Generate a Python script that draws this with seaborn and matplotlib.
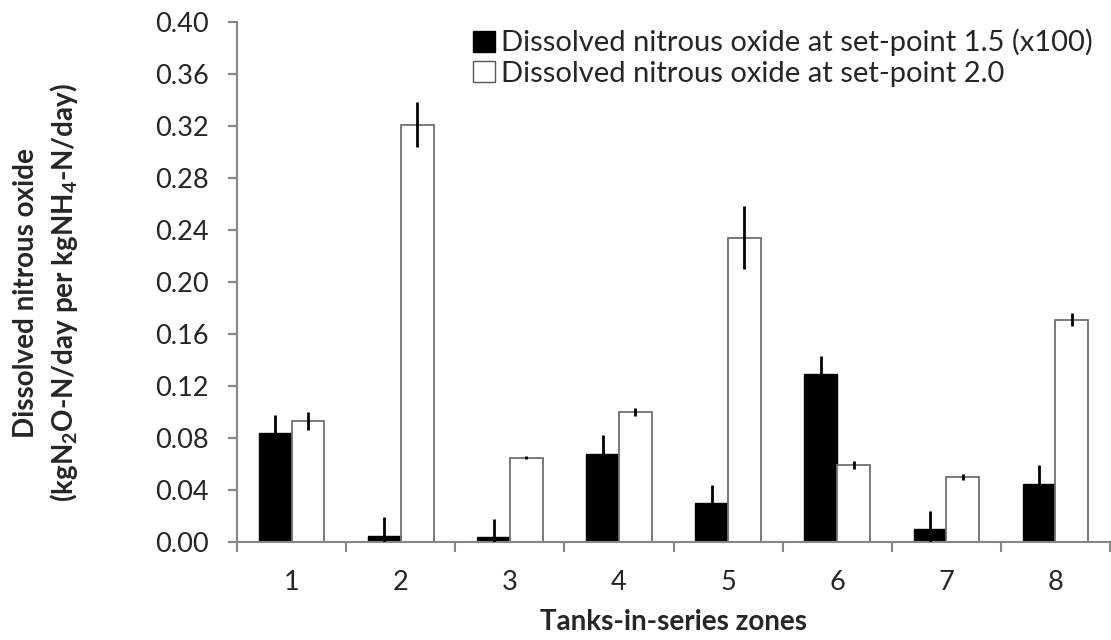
import matplotlib
matplotlib.use("Agg")
import matplotlib.pyplot as plt
import seaborn as sns
import pandas as pd
import numpy as np

zones = ["1", "2", "3", "4", "5", "6", "7", "8"]
sp15_values = [0.084, 0.005, 0.004, 0.068, 0.030, 0.129, 0.010, 0.045]
sp15_errors = [0.014, 0.014, 0.014, 0.014, 0.014, 0.014, 0.014, 0.014]
sp20_values = [0.093, 0.321, 0.065, 0.100, 0.234, 0.059, 0.050, 0.171]
sp20_errors = [0.007, 0.017, 0.001, 0.003, 0.024, 0.003, 0.002, 0.005]
series_names = ["Dissolved nitrous oxide at set-point 1.5 (x100)",
                "Dissolved nitrous oxide at set-point 2.0"]
y_ticks = [0.00, 0.04, 0.08, 0.12, 0.16, 0.20, 0.24, 0.28, 0.32, 0.36, 0.40]

sns.set_style("white")
plt.rcParams["font.family"] = ["Lato", "DejaVu Sans"]
plt.rcParams["mathtext.default"] = "regular"

df = pd.DataFrame({
    "zone": zones * 2,
    "value": sp15_values + sp20_values,
    "series": [series_names[0]] * len(zones) + [series_names[1]] * len(zones),
})

fig = plt.figure(figsize=(11.11, 6.4), dpi=100)
ax = fig.add_axes([0.2135, 0.153, 0.7855, 0.813])

sns.barplot(data=df, x="zone", y="value", hue="series", order=zones,
            hue_order=series_names, palette=["black", "white"],
            width=0.6, errorbar=None, ax=ax, saturation=1)

nz = len(zones)
patches = ax.patches[:2 * nz]
for i, p in enumerate(patches):
    if i < nz:
        p.set_edgecolor("black")
        p.set_linewidth(1.0)
    else:
        p.set_edgecolor("#6f6f6f")
        p.set_linewidth(1.3)

for i in range(nz):
    pb = patches[i]
    pw = patches[nz + i]
    ax.errorbar(pb.get_x() + pb.get_width() / 2, sp15_values[i], yerr=sp15_errors[i],
                fmt="none", ecolor="black", elinewidth=2, capsize=0, zorder=5)
    ax.errorbar(pw.get_x() + pw.get_width() / 2, sp20_values[i], yerr=sp20_errors[i],
                fmt="none", ecolor="black", elinewidth=2, capsize=0, zorder=5)

ax.set_ylim(0, 0.40)
ax.set_xlim(-0.5, nz - 0.5)
ax.set_yticks(y_ticks)
ax.set_yticklabels([f"{t:.2f}" for t in y_ticks])
ax.set_xticks(range(nz))
ax.set_xticklabels(zones)
ax.set_xticks(np.arange(-0.5, nz, 1.0), minor=True)

for s in ["top", "right"]:
    ax.spines[s].set_visible(False)
for s in ["left", "bottom"]:
    ax.spines[s].set_color("#868686")
    ax.spines[s].set_linewidth(1.5)

ax.tick_params(axis="y", which="major", direction="out", length=6.5, width=1.5,
               color="#868686", labelsize=19.5, pad=14, left=True)
ax.tick_params(axis="x", which="major", length=0, labelsize=19.5, pad=20)
ax.tick_params(axis="x", which="minor", direction="out", length=7, width=1.5,
               color="#868686", bottom=True)

ax.set_xlabel("Tanks-in-series zones", fontsize=20, fontweight="bold", labelpad=10)
ax.set_ylabel("Dissolved nitrous oxide\n(kgN$_2$O-N/day per kgNH$_4$-N/day)",
              fontsize=20, fontweight="bold", linespacing=1.35)
ax.yaxis.set_label_coords(-0.18, 0.479)

leg = ax.legend(loc="upper right", bbox_to_anchor=(1.0, 1.02), frameon=False,
                fontsize=21, handlelength=0.75, handleheight=0.75,
                handletextpad=0.2, labelspacing=0.15, borderaxespad=0.2)
for h in leg.legend_handles:
    h.set_edgecolor("black" if h.get_facecolor()[0] < 0.5 else "#555555")

fig.savefig("out.png", dpi=100)
